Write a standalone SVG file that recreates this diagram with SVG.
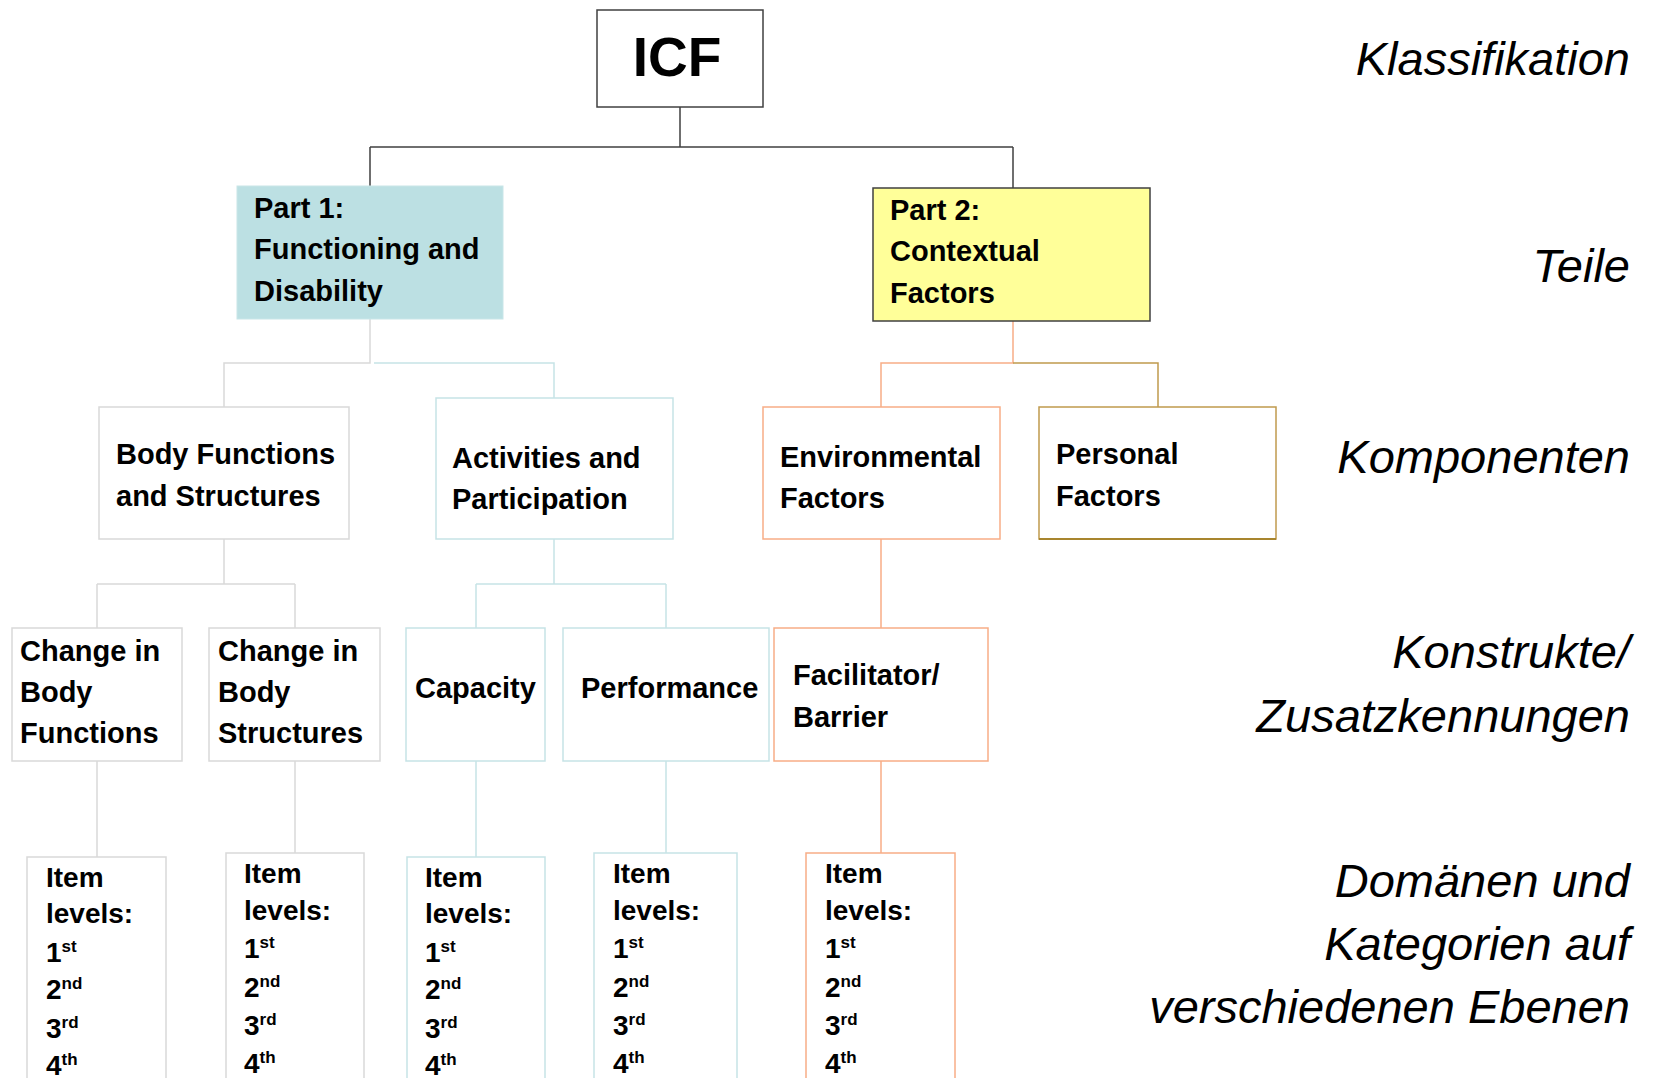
<svg xmlns="http://www.w3.org/2000/svg" width="1654" height="1078" viewBox="0 0 1654 1078">
<style>
text{font-family:"Liberation Sans",Arial,sans-serif;fill:#000}
.b{font-weight:bold;font-size:29px}
.it{font-size:28px;font-weight:bold}
.lab{font-style:italic;font-size:47px;text-anchor:end}
.sup{font-size:17px}
.box{fill:#fff;stroke-width:1.5}
.gray{stroke:#d9d9d9}
.teal{stroke:#c6e3e6}
.orange{stroke:#f8ad86}
.gold{stroke:#c09a4e}
.dark{stroke:#404040}
.ln{fill:none;stroke-width:1.5}
</style>
<rect width="1654" height="1078" fill="#fff"/>
<g id="connectors">
<path class="ln dark" d="M680,107V147M370,147H1013M370,147V186M1013,147V188"/>
<path class="ln gray" d="M370,319V363H224V407"/>
<path class="ln teal" d="M374,363H554V398"/>
<path class="ln orange" d="M1013,321V363H881V407"/>
<path class="ln gold" d="M1013,363H1158V407"/>
<path class="ln gray" d="M224,539V584M97,584H295M97,584V628M295,584V628"/>
<path class="ln teal" d="M554,539V584M476,584H666M476,584V628M666,584V628"/>
<path class="ln orange" d="M881,539V628"/>
<path class="ln gray" d="M97,761V857M295,761V853"/>
<path class="ln teal" d="M476,761V857M666,761V853"/>
<path class="ln orange" d="M881,761V853"/>
</g>
<g id="icf">
<rect class="box dark" x="597" y="10" width="166" height="97"/>
<text x="677" y="76" text-anchor="middle" font-weight="bold" font-size="55">ICF</text>
</g>
<g id="part1">
<rect x="237" y="186" width="266" height="133" fill="#bce0e3" stroke="#c9e6e8" stroke-width="1"/>
<text class="b"><tspan x="254" y="218">Part 1:</tspan><tspan x="254" y="259">Functioning and</tspan><tspan x="254" y="301">Disability</tspan></text>
</g>
<g id="part2">
<rect x="873" y="188" width="277" height="133" fill="#ffff99" stroke="#404040" stroke-width="1.5"/>
<text class="b"><tspan x="890" y="220">Part 2:</tspan><tspan x="890" y="261">Contextual</tspan><tspan x="890" y="303">Factors</tspan></text>
</g>
<g id="body">
<rect class="box gray" x="99" y="407" width="250" height="132"/>
<text class="b"><tspan x="116" y="464">Body Functions</tspan><tspan x="116" y="506">and Structures</tspan></text>
</g>
<g id="activities">
<rect class="box teal" x="436" y="398" width="237" height="141"/>
<text class="b"><tspan x="452" y="468">Activities and</tspan><tspan x="452" y="509">Participation</tspan></text>
</g>
<g id="environmental">
<rect class="box orange" x="763" y="407" width="237" height="132"/>
<text class="b"><tspan x="780" y="467">Environmental</tspan><tspan x="780" y="508">Factors</tspan></text>
</g>
<g id="personal">
<rect class="box gold" x="1039" y="407" width="237" height="132"/>
<path d="M1039,539H1276" stroke="#a8852e" stroke-width="2"/>
<text class="b"><tspan x="1056" y="464">Personal</tspan><tspan x="1056" y="506">Factors</tspan></text>
</g>
<g id="change-functions">
<rect class="box gray" x="12" y="628" width="170" height="133"/>
<text class="b"><tspan x="20" y="661">Change in</tspan><tspan x="20" y="702">Body</tspan><tspan x="20" y="743">Functions</tspan></text>
</g>
<g id="change-structures">
<rect class="box gray" x="209" y="628" width="171" height="133"/>
<text class="b"><tspan x="218" y="661">Change in</tspan><tspan x="218" y="702">Body</tspan><tspan x="218" y="743">Structures</tspan></text>
</g>
<g id="capacity">
<rect class="box teal" x="406" y="628" width="139" height="133"/>
<text class="b" x="415" y="698">Capacity</text>
</g>
<g id="performance">
<rect class="box teal" x="563" y="628" width="206" height="133"/>
<text class="b" x="581" y="698">Performance</text>
</g>
<g id="facilitator">
<rect class="box orange" x="774" y="628" width="214" height="133"/>
<text class="b"><tspan x="793" y="685">Facilitator/</tspan><tspan x="793" y="727">Barrier</tspan></text>
</g>
<g id="items1">
<rect class="box gray" x="27" y="857" width="139" height="240"/>
<text class="it"><tspan x="46" y="887">Item</tspan><tspan x="46" y="923">levels:</tspan><tspan x="46" y="962">1<tspan class="sup" dy="-10">st</tspan></tspan><tspan x="46" y="999">2<tspan class="sup" dy="-10">nd</tspan></tspan><tspan x="46" y="1038">3<tspan class="sup" dy="-10">rd</tspan></tspan><tspan x="46" y="1075">4<tspan class="sup" dy="-10">th</tspan></tspan></text>
</g>
<g id="items2">
<rect class="box gray" x="226" y="853" width="138" height="240"/>
<text class="it"><tspan x="244" y="883">Item</tspan><tspan x="244" y="920">levels:</tspan><tspan x="244" y="958">1<tspan class="sup" dy="-10">st</tspan></tspan><tspan x="244" y="997">2<tspan class="sup" dy="-10">nd</tspan></tspan><tspan x="244" y="1035">3<tspan class="sup" dy="-10">rd</tspan></tspan><tspan x="244" y="1073">4<tspan class="sup" dy="-10">th</tspan></tspan></text>
</g>
<g id="items3">
<rect class="box teal" x="407" y="857" width="138" height="240"/>
<text class="it"><tspan x="425" y="887">Item</tspan><tspan x="425" y="923">levels:</tspan><tspan x="425" y="962">1<tspan class="sup" dy="-10">st</tspan></tspan><tspan x="425" y="999">2<tspan class="sup" dy="-10">nd</tspan></tspan><tspan x="425" y="1038">3<tspan class="sup" dy="-10">rd</tspan></tspan><tspan x="425" y="1075">4<tspan class="sup" dy="-10">th</tspan></tspan></text>
</g>
<g id="items4">
<rect class="box teal" x="594" y="853" width="143" height="240"/>
<text class="it"><tspan x="613" y="883">Item</tspan><tspan x="613" y="920">levels:</tspan><tspan x="613" y="958">1<tspan class="sup" dy="-10">st</tspan></tspan><tspan x="613" y="997">2<tspan class="sup" dy="-10">nd</tspan></tspan><tspan x="613" y="1035">3<tspan class="sup" dy="-10">rd</tspan></tspan><tspan x="613" y="1073">4<tspan class="sup" dy="-10">th</tspan></tspan></text>
</g>
<g id="items5">
<rect class="box orange" x="806" y="853" width="149" height="240"/>
<text class="it"><tspan x="825" y="883">Item</tspan><tspan x="825" y="920">levels:</tspan><tspan x="825" y="958">1<tspan class="sup" dy="-10">st</tspan></tspan><tspan x="825" y="997">2<tspan class="sup" dy="-10">nd</tspan></tspan><tspan x="825" y="1035">3<tspan class="sup" dy="-10">rd</tspan></tspan><tspan x="825" y="1073">4<tspan class="sup" dy="-10">th</tspan></tspan></text>
</g>
<g id="labels">
<text class="lab" x="1630" y="75" font-size="48">Klassifikation</text>
<text class="lab" x="1630" y="282">Teile</text>
<text class="lab" x="1630" y="473">Komponenten</text>
<text class="lab" x="1630" y="668">Konstrukte/</text>
<text class="lab" x="1630" y="732">Zusatzkennungen</text>
<text class="lab" x="1630" y="897">Domänen und</text>
<text class="lab" x="1630" y="960">Kategorien auf</text>
<text class="lab" x="1630" y="1023">verschiedenen Ebenen</text>
</g>
</svg>
